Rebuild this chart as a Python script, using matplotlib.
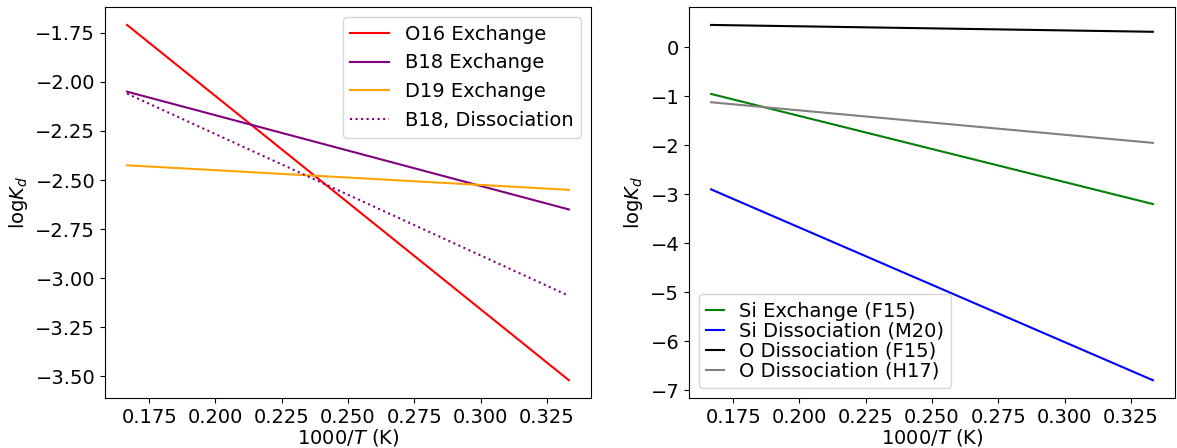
import numpy as np
import matplotlib
matplotlib.use('Agg')
import matplotlib.pyplot as plt

plt.rcParams['font.size'] = 14

# 1000/T for T = 6000 K and 3000 K
inv_T = [1000 / 6000, 1000 / 3000]

# left panel: oxygen partitioning
o16_exchange = [-1.71, -3.52]
b18_exchange = [-2.05, -2.65]
d19_exchange = [-2.425, -2.55]
b18_dissociation = [-2.06, -3.09]

# right panel: Si and O
si_exchange_f15 = [-0.95, -3.20]
si_dissociation_m20 = [-2.90, -6.80]
o_dissociation_f15 = [0.46, 0.32]
o_dissociation_h17 = [-1.12, -1.95]

fig, (ax1, ax2) = plt.subplots(1, 2, figsize=(11.77, 4.48), dpi=100)

ax1.plot(inv_T, o16_exchange, color='red', label='O16 Exchange')
ax1.plot(inv_T, b18_exchange, color='purple', label='B18 Exchange')
ax1.plot(inv_T, d19_exchange, color='orange', label='D19 Exchange')
ax1.plot(inv_T, b18_dissociation, color='purple', ls=':', label='B18, Dissociation')
ax1.set_xlabel('1000/$T$ (K)', labelpad=0)
ax1.set_ylabel(r'log$K_d$')
ax1.legend(loc='upper right')

ax2.plot(inv_T, si_exchange_f15, color='green', label='Si Exchange (F15)')
ax2.plot(inv_T, si_dissociation_m20, color='blue', label='Si Dissociation (M20)')
ax2.plot(inv_T, o_dissociation_f15, color='black', label='O Dissociation (F15)')
ax2.plot(inv_T, o_dissociation_h17, color='grey', label='O Dissociation (H17)')
ax2.set_xlabel('1000/$T$ (K)', labelpad=0)
ax2.set_ylabel(r'log$K_d$')
ax2.legend(loc='lower left', labelspacing=0.05, handlelength=0.9, handletextpad=0.75)

plt.subplots_adjust(left=0.0892, right=0.9983, bottom=0.1116, top=0.984, wspace=0.2016)
fig.savefig('out.png')
